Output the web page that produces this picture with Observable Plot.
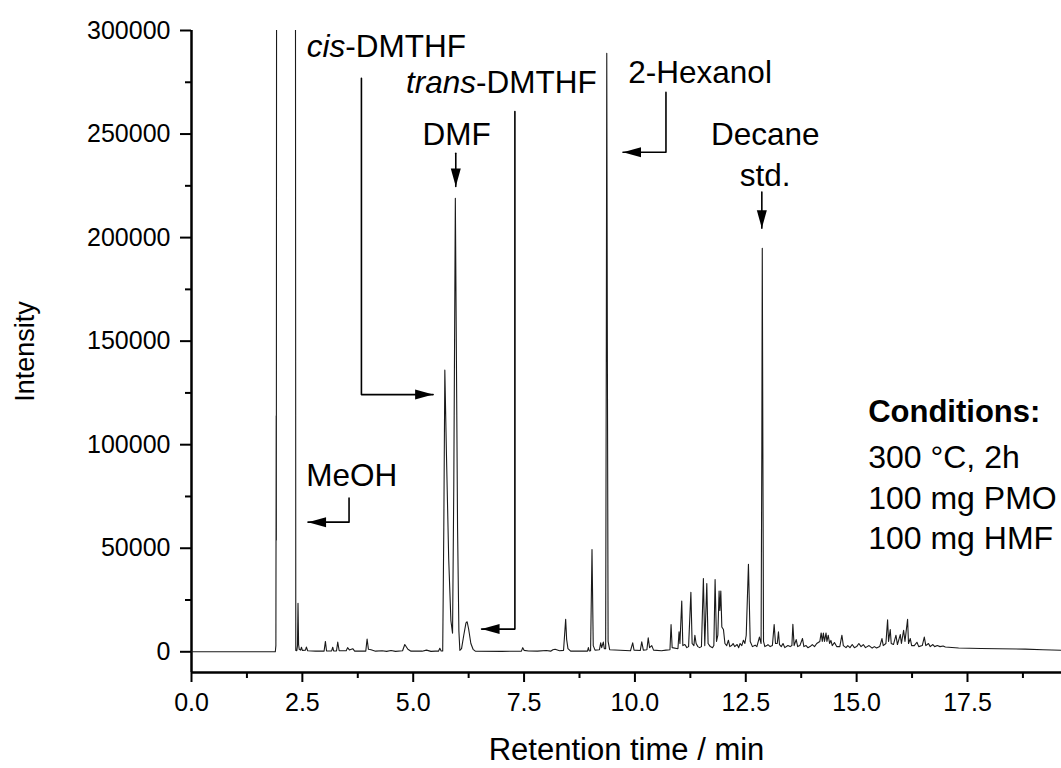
<!DOCTYPE html>
<html><head><meta charset="utf-8">
<script src="https://cdn.jsdelivr.net/npm/d3@7"></script>
<script src="https://cdn.jsdelivr.net/npm/@observablehq/plot@0.6"></script>
<style>body{margin:0;background:#fff;}</style>
</head><body><div id="chart"></div>
<script>
// ---- axes ----
const xDomain = [0, 19.62];
const yDomain = [-10000, 300000];
const xTicks = [0, 2.5, 5, 7.5, 10, 12.5, 15, 17.5];
const xMinorTicks = [1.25, 3.75, 6.25, 8.75, 11.25, 13.75, 16.25, 18.75];
const yTicks = [0, 50000, 100000, 150000, 200000, 250000, 300000];
const yMinorTicks = [25000, 75000, 125000, 175000, 225000, 275000];
const xTitle = "Retention time / min";
const yTitle = "Intensity";

// ---- chromatogram trace [time (min), intensity] ----
const trace = [
[0,0],[1.0,0],[1.89,0],[1.903,3000],[1.91,114000],[1.913,54000],[1.92,400000],
[2.343,400000],[2.352,600],[2.375,500],[2.39,3000],[2.402,23400],[2.415,3500],[2.43,1200],[2.46,800],[2.48,2200],[2.50,700],[2.57,800],[2.59,2300],[2.62,500],
[2.8,300],[2.99,300],[3.02,5000],[3.045,400],[3.16,400],[3.185,2200],[3.205,400],[3.27,400],[3.298,4700],[3.33,500],
[3.49,500],[3.52,2000],[3.56,900],[3.636,1500],[3.68,300],[3.93,300],[3.96,6200],[3.99,1200],[4.05,1000],[4.15,300],
[4.3,500],[4.4,200],[4.5,600],[4.6,200],[4.76,500],[4.81,3500],[4.88,1200],[4.95,300],
[5.2,300],[5.3,800],[5.4,200],[5.5,300],[5.57,300],[5.6,1700],[5.63,400],
[5.665,400],[5.69,60000],[5.713,136000],[5.75,95000],[5.80,45000],[5.85,15000],[5.887,9000],
[5.915,80000],[5.95,219000],[5.975,140000],[6.0,60000],[6.03,10000],[6.052,700],
[6.09,1500],[6.14,8000],[6.19,14000],[6.216,14500],[6.25,11000],[6.3,4000],[6.35,1200],[6.4,300],
[7.0,200],[7.44,300],[7.47,2000],[7.5,700],[7.6,400],[7.8,300],[8.0,600],[8.1,300],[8.15,1000],[8.2,1200],[8.3,500],
[8.39,700],[8.42,10000],[8.438,15700],[8.46,6000],[8.49,1500],[8.55,300],
[8.9,300],[8.93,300],[8.95,2000],[8.97,400],[9.0,500],[9.032,49400],[9.06,3000],[9.1,800],
[9.2,1000],[9.228,4300],[9.25,2000],[9.287,4700],[9.31,1500],
[9.34,1500],[9.355,150000],[9.365,289000],[9.378,150000],[9.395,5000],[9.43,1000],
[9.9,500],[9.95,4300],[9.98,800],[10.12,600],[10.154,4800],[10.19,800],[10.27,1000],[10.30,6700],[10.33,2000],[10.38,3000],[10.42,800],
[10.6,500],[10.7,800],[10.79,1000],[10.815,13100],[10.84,2000],[10.97,1500],[10.995,9700],[11.015,4000],[11.056,24500],[11.08,3000],
[11.127,3500],[11.17,2000],[11.21,2500],[11.262,28700],[11.29,4000],[11.33,3000],[11.352,8000],[11.38,4000],[11.42,2500],[11.46,2000],[11.5,2500],
[11.544,35400],[11.575,3000],[11.621,33000],[11.65,4000],[11.7,2500],[11.75,2000],[11.78,3000],[11.808,34900],[11.84,5000],[11.87,8000],
[11.898,29300],[11.915,20000],[11.937,29300],[11.96,12000],[11.996,10800],[12.03,4000],[12.07,3000],[12.108,5600],[12.14,2500],[12.18,3000],
[12.214,4000],[12.25,2500],[12.305,3500],[12.34,2000],[12.372,4000],[12.41,3000],[12.447,5600],[12.48,4000],[12.51,8000],[12.56,42300],
[12.6,5000],[12.65,2500],[12.711,3200],[12.75,2500],[12.808,7100],[12.845,4000],[12.862,100000],[12.872,194800],[12.885,100000],[12.90,5000],
[12.93,2500],[12.975,3000],[13.0,3500],[13.05,2500],[13.1,3000],[13.14,13100],[13.17,4000],[13.21,4000],[13.237,9600],[13.26,3500],[13.3,2500],
[13.34,4000],[13.38,2000],[13.45,3000],[13.5,2500],[13.54,3000],[13.562,13300],[13.59,3000],[13.637,5900],[13.67,2500],[13.72,3000],[13.779,6400],
[13.81,2500],[13.86,3000],[13.9,2000],[13.95,2500],[14.0,3500],[14.05,2500],[14.1,4000],[14.17,5000],[14.2,9100],[14.225,5000],[14.25,9000],
[14.275,5000],[14.31,9100],[14.33,5000],[14.36,8000],[14.39,4000],[14.42,5500],[14.45,3000],[14.5,4500],[14.55,2500],[14.62,2500],[14.668,8000],
[14.7,3000],[14.76,2000],[14.8,3000],[14.85,2000],[14.9,3500],[14.95,2000],[15.0,2500],[15.05,4000],[15.1,2500],[15.15,3500],[15.2,2000],
[15.28,3000],[15.35,1800],[15.4,2500],[15.45,1800],[15.52,2500],[15.571,6400],[15.6,3000],[15.66,4000],[15.698,15500],[15.72,5000],[15.758,10700],
[15.78,4000],[15.83,3500],[15.887,8000],[15.92,3500],[15.984,8300],[16.01,4000],[16.059,10400],[16.09,5000],[16.149,15700],[16.17,4000],
[16.21,6400],[16.24,3000],[16.3,3000],[16.36,4600],[16.4,2500],[16.48,3000],[16.526,7100],[16.56,3000],[16.62,4000],[16.66,2500],[16.72,3500],
[16.76,2500],[16.82,3000],[16.88,2500],[16.95,2800],[17.0,2300],[17.3,1800],[17.8,1600],[18.2,1500],[18.8,1300],[19.2,1000],[19.62,700]
];

// ---- peak labels (centre position in data units) ----
const labelText = ["cis-DMTHF", "trans-DMTHF", "DMF", "2-Hexanol", "Decane", "std.", "MeOH"];
const labelTime = [4.393, 6.989, 5.977, 11.47, 12.937, 12.937, 3.612];
const labelIntensity = [292300, 274500, 249400, 279700, 249800, 230000, 84800];

// ---- label connectors: [id, time, intensity]; last point of each is the arrow tip ----
const connectors = [
  ["cis", 3.832, 276900], ["cis", 3.832, 124200], ["cis", 5.449, 124200],
  ["trans", 7.293, 260900], ["trans", 7.293, 10950], ["trans", 6.542, 10950],
  ["dmf", 5.96, 240700], ["dmf", 5.96, 224700],
  ["hex", 10.70, 270100], ["hex", 10.70, 241200], ["hex", 9.731, 241200],
  ["dec", 12.862, 222000], ["dec", 12.862, 204500],
  ["meoh", 3.553, 74200], ["meoh", 3.553, 62600], ["meoh", 2.628, 62600]
];
const arrowDirection = {cis: 90, trans: -90, dmf: 180, hex: -90, dec: 180, meoh: -90};

// ---- conditions box ----
const condTitle = "Conditions:";
const condLines = ["300 \u00B0C, 2h", "100 mg PMO", "100 mg HMF"];
const condTime = 15.26;
const condTitleIntensity = 115700;
const condLineIntensity = [93900, 74100, 54800];

// ---- build ----
const connData = connectors.map(([id, t, v]) => ({id, t, v}));
const heads = Object.keys(arrowDirection).map(id => {
  const pts = connData.filter(d => d.id === id);
  const last = pts[pts.length - 1];
  return {t: last.t, v: last.v, r: arrowDirection[id]};
});
const arrowHead = {draw(ctx) { ctx.moveTo(0, 0); ctx.lineTo(-5, 18); ctx.lineTo(5, 18); ctx.closePath(); }};
const labels = labelText.map((s, i) => ({s, t: labelTime[i], v: labelIntensity[i]}));
const cond = condLines.map((s, i) => ({s, t: condTime, v: condLineIntensity[i]}));

const font = "'Liberation Sans', Arial, Helvetica, sans-serif";
const plot = Plot.plot({
  width: 1061, height: 768,
  marginLeft: 191, marginRight: 0, marginTop: 30, marginBottom: 96,
  x: {domain: xDomain},
  y: {domain: yDomain},
  style: {fontFamily: font, fontSize: "25px", color: "#000", background: "#fff", overflow: "visible"},
  marks: [
    Plot.axisX(xTicks, {tickSize: 10, tickPadding: 11, tickFormat: d3.format(".1f"), strokeWidth: 2, label: null, fontSize: 25}),
    Plot.axisX(xMinorTicks, {tickSize: 6, tickFormat: () => "", strokeWidth: 2, label: null}),
    Plot.axisY(yTicks, {tickSize: 11, tickPadding: 10, tickFormat: d3.format("d"), strokeWidth: 2, label: null, fontSize: 25}),
    Plot.axisY(yMinorTicks, {tickSize: 6, tickFormat: () => "", strokeWidth: 2, label: null}),
    Plot.ruleX([xDomain[0]], {strokeWidth: 2.5}),
    Plot.ruleY([yDomain[0]], {strokeWidth: 2.5}),
    Plot.line(trace, {x: d => d[0], y: d => d[1], stroke: "#1a1a1a", strokeWidth: 1.1, clip: true}),
    Plot.line(connData, {x: "t", y: "v", z: "id", stroke: "#000", strokeWidth: 1.6}),
    Plot.dot(heads, {x: "t", y: "v", rotate: "r", symbol: arrowHead, fill: "#000", stroke: "none", r: 5}),
    Plot.text(labels, {x: "t", y: "v", text: "s", fontSize: 31.5, textAnchor: "middle", fill: "#000"}),
    Plot.text([condTitle], {x: () => condTime, y: () => condTitleIntensity, text: d => d, fontSize: 31, fontWeight: "bold", textAnchor: "start", fill: "#000"}),
    Plot.text(cond, {x: "t", y: "v", text: "s", fontSize: 32, textAnchor: "start", fill: "#000"}),
    Plot.text([yTitle], {frameAnchor: "left", text: d => d, rotate: -90, textAnchor: "middle", lineAnchor: "middle", dx: -166, fontSize: 27, fill: "#000"}),
    Plot.text([xTitle], {frameAnchor: "bottom", text: d => d, textAnchor: "middle", lineAnchor: "middle", dy: 78, fontSize: 31, fill: "#000"})
  ]
});

// italic prefixes (cis-/trans-)
d3.select(plot).selectAll("text").each(function() {
  const el = d3.select(this);
  if (el.selectAll("tspan").size()) return;
  const m = (el.text() || "").match(/^(cis|trans)(-.*)$/);
  if (m) {
    el.text(null);
    el.append("tspan").attr("font-style", "italic").text(m[1]);
    el.append("tspan").text(m[2]);
  }
});
document.getElementById("chart").appendChild(plot);
</script>
</body></html>
